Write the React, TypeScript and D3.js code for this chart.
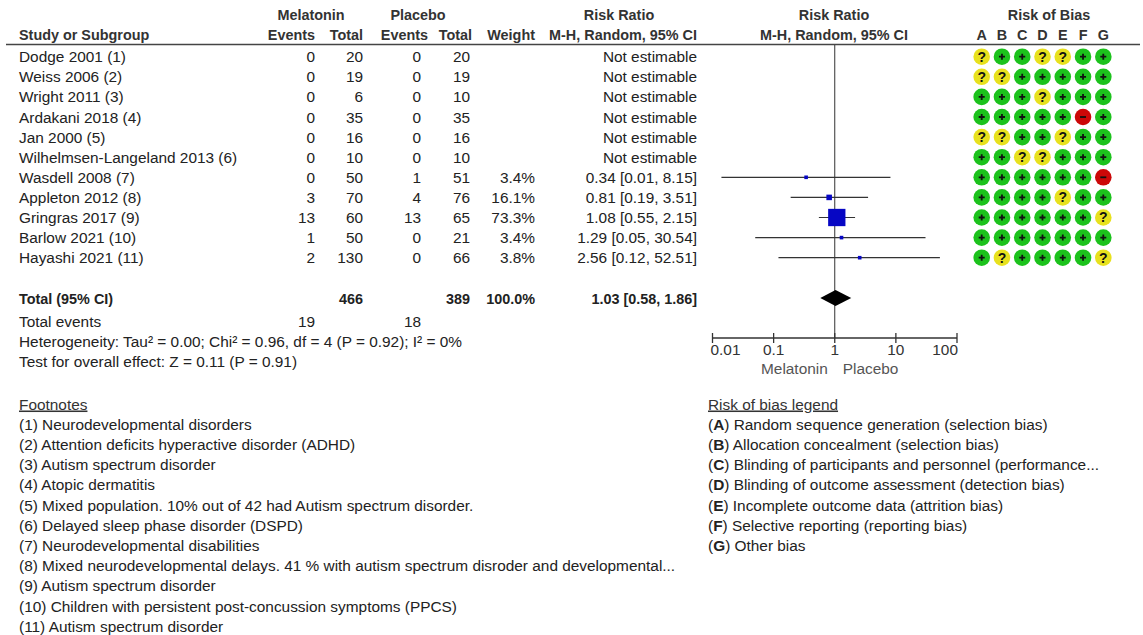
import React from "react";
import * as d3 from "d3";

const studies = [
  "Dodge 2001 (1)", "Weiss 2006 (2)", "Wright 2011 (3)", "Ardakani 2018 (4)", "Jan 2000 (5)",
  "Wilhelmsen-Langeland 2013 (6)", "Wasdell 2008 (7)", "Appleton 2012 (8)", "Gringras 2017 (9)",
  "Barlow 2021 (10)", "Hayashi 2021 (11)",
];
const melEvents = [0, 0, 0, 0, 0, 0, 0, 3, 13, 1, 2];
const melTotal = [20, 19, 6, 35, 16, 10, 50, 70, 60, 50, 130];
const plaEvents = [0, 0, 0, 0, 0, 0, 1, 4, 13, 0, 0];
const plaTotal = [20, 19, 10, 35, 16, 10, 51, 76, 65, 21, 66];
const weights: (number | null)[] = [null, null, null, null, null, null, 3.4, 16.1, 73.3, 3.4, 3.8];
const rr: (number | null)[] = [null, null, null, null, null, null, 0.34, 0.81, 1.08, 1.29, 2.56];
const lo: (number | null)[] = [null, null, null, null, null, null, 0.014, 0.19, 0.55, 0.05, 0.12];
const hi: (number | null)[] = [null, null, null, null, null, null, 8.15, 3.51, 2.15, 30.54, 52.51];
const rob = ["?++??++", "??+++++", "+++?+++", "+++++-+", "??++?++", "++??+++", "++++++-", "++++?++", "++++++?", "+++++++", "+?++++?"];
const robDomains = ["A", "B", "C", "D", "E", "F", "G"];
const total = { mel: 466, pla: 389, weight: "100.0%", rr: 1.03, lo: 0.58, hi: 1.86 };
const totalEvents = { mel: 19, pla: 18 };
const axisTicks = [0.01, 0.1, 1, 10, 100];
const axisTickLabels = ["0.01", "0.1", "1", "10", "100"];
const heterogeneity = "Heterogeneity: Tau\u00b2 = 0.00; Chi\u00b2 = 0.96, df = 4 (P = 0.92); I\u00b2 = 0%";
const overallEffect = "Test for overall effect: Z = 0.11 (P = 0.91)";
const footnotes = [
  "(1) Neurodevelopmental disorders",
  "(2) Attention deficits hyperactive disorder (ADHD)",
  "(3) Autism spectrum disorder",
  "(4) Atopic dermatitis",
  "(5) Mixed population. 10% out of 42 had Autism spectrum disorder.",
  "(6) Delayed sleep phase disorder (DSPD)",
  "(7) Neurodevelopmental disabilities",
  "(8) Mixed neurodevelopmental delays. 41 % with autism spectrum disroder and developmental...",
  "(9) Autism spectrum disorder",
  "(10) Children with persistent post-concussion symptoms (PPCS)",
  "(11) Autism spectrum disorder",
];
const robLegend = [
  ["A", "Random sequence generation (selection bias)"],
  ["B", "Allocation concealment (selection bias)"],
  ["C", "Blinding of participants and personnel (performance..."],
  ["D", "Blinding of outcome assessment (detection bias)"],
  ["E", "Incomplete outcome data (attrition bias)"],
  ["F", "Selective reporting (reporting bias)"],
  ["G", "Other bias"],
];

const FONT = "'Liberation Sans', Arial, sans-serif";
const FS = 15.4;
const FSB = 14.4;
const TXT = "#222";

const fmt2 = d3.format(".2f");

export default function App() {
  const W = 1143, H = 635;
  const x = d3.scaleLog().domain([0.01, 100]).range([712.5, 957]);
  const rowY = d3.scaleLinear().domain([0, 10]).range([56.7, 257.7]);
  const robX = d3.scalePoint<string>().domain(robDomains).range([981.7, 1103.3]);
  const sq = d3.scalePow().exponent(0.75).domain([0, 73.3]).range([0, 17.3]);
  const fnY = d3.scaleLinear().domain([0, 1]).range([404, 424.2]);

  const col = { name: 19, melE: 315, melT: 363, plaE: 421, plaT: 470, w: 535, rr: 697 };
  const base = (cy: number) => cy + 5.5;
  const totalY = 298;
  const axisY = 338;

  const robColor = (c: string) => (c === "+" ? "#1cc21c" : c === "?" ? "#e8e11e" : "#cc0808");
  const size = (w: number) => Math.max(sq(w), 3.6);

  return (
    <svg width={W} height={H} style={{ position: "absolute", left: 0, top: 0, background: "#fff" }}
      fontFamily={FONT} fontSize={FS} fill={TXT}>
      {/* header */}
      <g fontWeight="bold" fill="#333" fontSize={FSB}>
        <text x={311} y={20} textAnchor="middle">Melatonin</text>
        <text x={418} y={20} textAnchor="middle">Placebo</text>
        <text x={619} y={20} textAnchor="middle">Risk Ratio</text>
        <text x={834} y={20} textAnchor="middle">Risk Ratio</text>
        <text x={1049} y={20} textAnchor="middle">Risk of Bias</text>
        <text x={col.name} y={40}>Study or Subgroup</text>
        <text x={315} y={40} textAnchor="end">Events</text>
        <text x={363} y={40} textAnchor="end">Total</text>
        <text x={428} y={40} textAnchor="end">Events</text>
        <text x={472} y={40} textAnchor="end">Total</text>
        <text x={535} y={40} textAnchor="end">Weight</text>
        <text x={697} y={40} textAnchor="end">M-H, Random, 95% CI</text>
        <text x={834} y={40} textAnchor="middle">M-H, Random, 95% CI</text>
        {robDomains.map((d) => (
          <text key={d} x={robX(d)} y={40} textAnchor="middle">{d}</text>
        ))}
      </g>
      <line x1={6} x2={1140} y1={44.5} y2={44.5} stroke="#444" strokeWidth={1.5} />

      {/* null line */}
      <line x1={x(1)} x2={x(1)} y1={45} y2={axisY} stroke="#333" strokeWidth={1} />

      {/* study rows */}
      {studies.map((s, i) => {
        const cy = rowY(i);
        const b = base(cy);
        const has = rr[i] != null;
        return (
          <g key={s}>
            <text x={col.name} y={b}>{s}</text>
            <text x={col.melE} y={b} textAnchor="end">{melEvents[i]}</text>
            <text x={col.melT} y={b} textAnchor="end">{melTotal[i]}</text>
            <text x={col.plaE} y={b} textAnchor="end">{plaEvents[i]}</text>
            <text x={col.plaT} y={b} textAnchor="end">{plaTotal[i]}</text>
            {weights[i] != null && (
              <text x={col.w} y={b} textAnchor="end">{weights[i]!.toFixed(1)}%</text>
            )}
            <text x={col.rr} y={b} textAnchor="end">
              {has ? `${fmt2(rr[i]!)} [${fmt2(lo[i]!)}, ${fmt2(hi[i]!)}]` : "Not estimable"}
            </text>
            {has && (
              <g>
                <line x1={x(Math.max(lo[i]!, 0.01))} x2={x(Math.min(hi[i]!, 100))} y1={cy} y2={cy} stroke="#333" strokeWidth={1.2} />
                <rect
                  x={x(rr[i]!) - size(weights[i]!) / 2}
                  y={cy - size(weights[i]!) / 2}
                  width={size(weights[i]!)}
                  height={size(weights[i]!)}
                  fill="#0606c4"
                />
              </g>
            )}
            {rob[i].split("").map((c, j) => (
              <g key={j} transform={`translate(${robX(robDomains[j])},${cy})`}>
                <circle r={8.3} fill={robColor(c)} />
                {c === "+" && (
                  <path d="M-3,0H3M0,-3V3" stroke="#111" strokeWidth={1.8} />
                )}
                {c === "-" && <path d="M-3,0H3" stroke="#111" strokeWidth={1.8} />}
                {c === "?" && (
                  <text y={4.8} textAnchor="middle" fontWeight="bold" fontSize={14} fill="#111">?</text>
                )}
              </g>
            ))}
          </g>
        );
      })}

      {/* total row */}
      <g fontWeight="bold" fill="#222" fontSize={FSB}>
        <text x={col.name} y={base(totalY)}>Total (95% CI)</text>
        <text x={col.melT} y={base(totalY)} textAnchor="end">{total.mel}</text>
        <text x={col.plaT} y={base(totalY)} textAnchor="end">{total.pla}</text>
        <text x={col.w} y={base(totalY)} textAnchor="end">{total.weight}</text>
        <text x={col.rr} y={base(totalY)} textAnchor="end">
          {`${fmt2(total.rr)} [${fmt2(total.lo)}, ${fmt2(total.hi)}]`}
        </text>
      </g>
      <path
        d={`M${x(total.lo)},${totalY} L${x(total.rr)},${totalY - 8} L${x(total.hi)},${totalY} L${x(total.rr)},${totalY + 8} Z`}
        fill="#000"
      />
      <text x={col.name} y={base(321)}>Total events</text>
      <text x={col.melE} y={base(321)} textAnchor="end">{totalEvents.mel}</text>
      <text x={col.plaE} y={base(321)} textAnchor="end">{totalEvents.pla}</text>
      <text x={col.name} y={base(341)}>{heterogeneity}</text>
      <text x={col.name} y={base(361)}>{overallEffect}</text>

      {/* axis */}
      <g stroke="#333">
        <line x1={x(0.01)} x2={x(100)} y1={axisY} y2={axisY} strokeWidth={1.3} />
        {axisTicks.map((t) => (
          <line key={t} x1={x(t)} x2={x(t)} y1={axisY - 5} y2={axisY + 5} strokeWidth={1.3} />
        ))}
      </g>
      {axisTicks.map((t, i) => {
        const first = i === 0, last = i === axisTicks.length - 1;
        return (
          <text key={t} x={x(t) + (first ? -2 : last ? 1 : 0)} y={355}
            textAnchor={first ? "start" : last ? "end" : "middle"} fill="#333">
            {axisTickLabels[i]}
          </text>
        );
      })}
      <text x={x(1) - 7} y={374} textAnchor="end" fill="#555">Melatonin</text>
      <text x={x(1) + 8} y={374} textAnchor="start" fill="#555">Placebo</text>

      {/* footnotes */}
      <text x={col.name} y={base(fnY(0))} textDecoration="underline" fill="#333">Footnotes</text>
      {footnotes.map((f, i) => (
        <text key={i} x={col.name} y={base(fnY(i + 1))}>{f}</text>
      ))}

      <text x={708} y={base(fnY(0))} textDecoration="underline" fill="#333">Risk of bias legend</text>
      {robLegend.map(([k, v], i) => (
        <text key={k} x={708} y={base(fnY(i + 1))}>
          (<tspan fontWeight="bold">{k}</tspan>) {v}
        </text>
      ))}
    </svg>
  );
}
